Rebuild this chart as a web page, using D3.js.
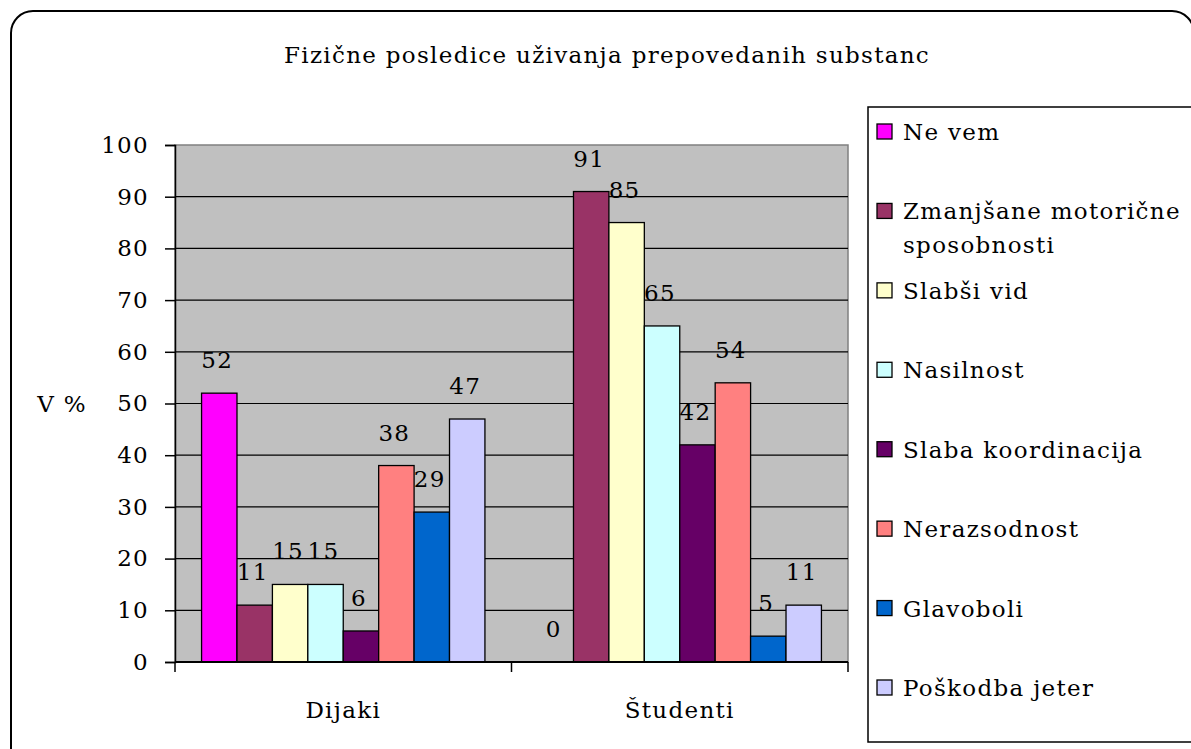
<!DOCTYPE html>
<html>
<head>
<meta charset="utf-8">
<script src="https://cdn.jsdelivr.net/npm/d3@7"></script>
<style>
  body { margin: 0; background: #fff; }
  svg text { font-family: "DejaVu Serif", serif; fill: #000; letter-spacing: 1.3px; }
</style>
</head>
<body>
<svg id="chart"></svg>
<script>
const width = 1191;
const height = 749;

// data
const categories = ["Dijaki", "Študenti"];
const seriesNames = ["Ne vem", "Zmanjšane motorične sposobnosti", "Slabši vid", "Nasilnost",
    "Slaba koordinacija", "Nerazsodnost", "Glavoboli", "Poškodba jeter"];
const dijakiValues = [52, 11, 15, 15, 6, 38, 29, 47];
const studentiValues = [0, 91, 85, 65, 42, 54, 5, 11];
const seriesColors = ["#FF00FF", "#993366", "#FFFFCC", "#CCFFFF", "#660066", "#FF8080", "#0066CC", "#CCCCFF"];
const yTicks = [0, 10, 20, 30, 40, 50, 60, 70, 80, 90, 100];
const legendLines = [["Ne vem"], ["Zmanjšane motorične", "sposobnosti"], ["Slabši vid"], ["Nasilnost"],
    ["Slaba koordinacija"], ["Nerazsodnost"], ["Glavoboli"], ["Poškodba jeter"]];

const rows = categories.map((c, i) => ({
    cat: c,
    values: i === 0 ? dijakiValues : studentiValues
}));

const plotLeft = 175, plotRight = 848, plotTop = 145, plotBottom = 662;
const fontSize = "23px";

const svg = d3.select("#chart")
    .attr("width", width)
    .attr("height", height);

// outer frame (right and bottom edges run past the picture)
svg.append("rect")
    .attr("x", 11).attr("y", 11)
    .attr("width", 1183).attr("height", 760)
    .attr("rx", 22).attr("ry", 22)
    .attr("fill", "#fff")
    .attr("stroke", "#000")
    .attr("stroke-width", 2);

// title
svg.append("text")
    .attr("x", 607).attr("y", 63)
    .attr("text-anchor", "middle")
    .style("font-size", fontSize)
    .text("Fizične posledice uživanja prepovedanih substanc");

const y = d3.scaleLinear().domain([0, 100]).range([plotBottom, plotTop]);
const x0 = d3.scaleBand().domain(categories).range([plotLeft, plotRight]).padding(0);
const x1 = d3.scaleBand().domain(d3.range(seriesNames.length))
    .range([0, x0.bandwidth()]).paddingInner(0).paddingOuter(0.75);

// plot area
svg.append("rect")
    .attr("x", plotLeft).attr("y", plotTop)
    .attr("width", plotRight - plotLeft).attr("height", plotBottom - plotTop)
    .attr("fill", "#C0C0C0")
    .attr("stroke", "#808080")
    .attr("stroke-width", 1.5);

// gridlines
svg.append("g")
    .selectAll("line")
    .data(yTicks.filter(d => d > 0 && d < 100))
    .join("line")
    .attr("x1", plotLeft).attr("x2", plotRight)
    .attr("y1", d => y(d)).attr("y2", d => y(d))
    .attr("stroke", "#000")
    .attr("stroke-width", 1.2);

// y axis
const yAxis = svg.append("g")
    .attr("transform", `translate(${plotLeft},0)`)
    .call(d3.axisLeft(y).tickValues(yTicks).tickSize(10).tickPadding(16));
yAxis.select(".domain").attr("stroke", "#000").attr("stroke-width", 1.5);
yAxis.selectAll(".tick line").attr("stroke", "#000").attr("stroke-width", 1.5);
yAxis.selectAll(".tick text").style("font-size", fontSize).attr("fill", "#000");

svg.append("text")
    .attr("x", 62).attr("y", y(50))
    .attr("dy", "0.35em")
    .attr("text-anchor", "middle")
    .style("font-size", fontSize)
    .text("V %");

// bars
const groups = svg.append("g")
    .selectAll("g")
    .data(rows)
    .join("g")
    .attr("transform", d => `translate(${x0(d.cat)},0)`);

groups.selectAll("rect")
    .data(d => d.values.map((v, i) => ({ v, i })))
    .join("rect")
    .attr("x", d => x1(d.i))
    .attr("y", d => y(d.v))
    .attr("width", x1.bandwidth())
    .attr("height", d => y(0) - y(d.v))
    .attr("fill", d => seriesColors[d.i])
    .attr("stroke", "#000")
    .attr("stroke-width", d => d.v > 0 ? 1.3 : 0);

groups.selectAll("text")
    .data(d => d.values.map((v, i) => ({ v, i })))
    .join("text")
    .attr("x", d => x1(d.i) + x1.bandwidth() / 2 - 2)
    .attr("y", d => y(d.v) - 25)
    .attr("text-anchor", "middle")
    .style("font-size", fontSize)
    .text(d => d.v);

// x axis
const xAxis = svg.append("g")
    .attr("transform", `translate(0,${plotBottom})`);
xAxis.append("line")
    .attr("x1", plotLeft).attr("x2", plotRight)
    .attr("stroke", "#000").attr("stroke-width", 2);
xAxis.selectAll(".tk")
    .data([plotLeft, x0(categories[1]), plotRight])
    .join("line")
    .attr("class", "tk")
    .attr("x1", d => d).attr("x2", d => d)
    .attr("y1", 0).attr("y2", 10)
    .attr("stroke", "#000").attr("stroke-width", 1.5);
xAxis.selectAll(".cat")
    .data(categories)
    .join("text")
    .attr("class", "cat")
    .attr("x", d => x0(d) + x0.bandwidth() / 2)
    .attr("y", 56)
    .attr("text-anchor", "middle")
    .style("font-size", fontSize)
    .text(d => d);

// legend
svg.append("rect")
    .attr("x", 868).attr("y", 107)
    .attr("width", 340).attr("height", 635)
    .attr("fill", "#fff")
    .attr("stroke", "#000")
    .attr("stroke-width", 1.5);

const legendY = d3.scalePoint().domain(d3.range(seriesNames.length)).range([140, 696]);

const legend = svg.append("g")
    .selectAll("g")
    .data(legendLines)
    .join("g")
    .attr("transform", (d, i) => `translate(877,${legendY(i)})`);

legend.append("rect")
    .attr("x", 0).attr("y", -16)
    .attr("width", 15).attr("height", 15)
    .attr("fill", (d, i) => seriesColors[i])
    .attr("stroke", "#000")
    .attr("stroke-width", 1.3);

legend.append("text")
    .attr("x", 26)
    .style("font-size", fontSize)
    .selectAll("tspan")
    .data(d => d)
    .join("tspan")
    .attr("x", 26)
    .attr("dy", (d, i) => i === 0 ? 0 : 34)
    .text(d => d);
</script>
</body>
</html>
